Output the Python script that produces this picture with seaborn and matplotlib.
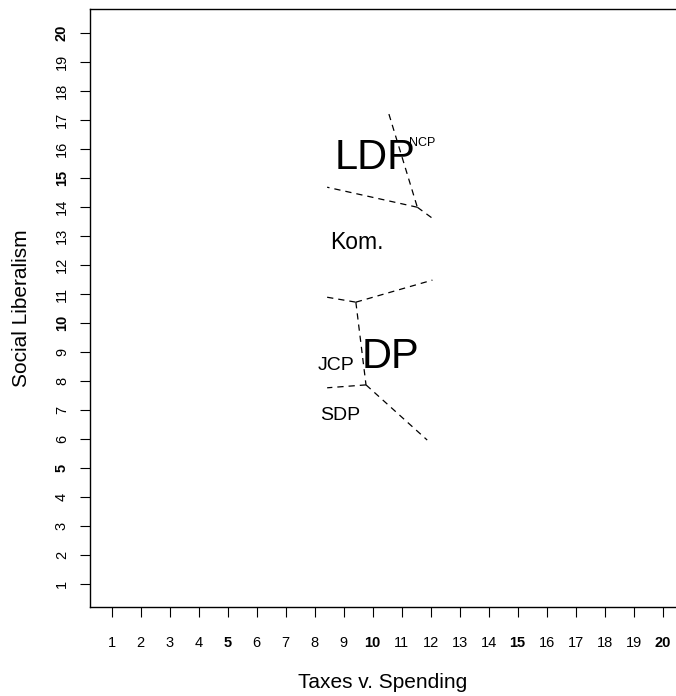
import numpy as np
import pandas as pd
import matplotlib
matplotlib.use("Agg")
import matplotlib.pyplot as plt
import seaborn as sns

# =====================================
# DATA
# =====================================

parties = ["LDP", "NCP", "Kom.", "DP", "JCP", "SDP"]
party_x = [10.08, 11.70, 9.46, 10.60, 8.73, 8.87]
party_y = [15.68, 16.20, 12.79, 8.83, 8.55, 6.80]

# voronoi edges (dashed), one row per segment
edge_x0 = [10.56, 11.54, 11.54, 8.43, 9.42, 9.42, 9.77, 9.77]
edge_y0 = [17.20, 13.99, 13.99, 10.89, 10.72, 10.72, 7.87, 7.87]
edge_x1 = [11.54, 12.06, 8.43, 9.42, 12.06, 9.77, 8.43, 11.88]
edge_y1 = [13.99, 13.61, 14.68, 10.72, 11.48, 7.87, 7.77, 5.97]

ticks = list(range(1, 21))

# =====================================
# STYLE
# =====================================

label_size = {"LDP": 30, "NCP": 9, "Kom.": 16.5, "DP": 30, "JCP": 14, "SDP": 14}

sns.set_style("white")
plt.rcParams["font.family"] = ["Liberation Sans", "DejaVu Sans"]
plt.rcParams["text.color"] = "black"
plt.rcParams["axes.labelcolor"] = "black"

# =====================================
# PLOT
# =====================================

fig = plt.figure(figsize=(6.76, 6.96), dpi=100)
ax = fig.add_axes([90 / 676, 89 / 696, 1 - 90 / 676, 598 / 696])

seg_rows = []
for i in range(len(edge_x0)):
    seg_rows.append({"seg": i, "x": edge_x0[i], "y": edge_y0[i]})
    seg_rows.append({"seg": i, "x": edge_x1[i], "y": edge_y1[i]})
segs = pd.DataFrame(seg_rows)

sns.lineplot(
    data=segs,
    x="x",
    y="y",
    units="seg",
    estimator=None,
    sort=False,
    color="black",
    linewidth=0.9,
    dashes=False,
    ax=ax
)
for line in ax.lines:
    line.set_dashes((5, 4))

for name, px, py in zip(parties, party_x, party_y):
    ax.text(px, py, name, fontsize=label_size[name],
            ha="center", va="center", color="black")

ax.set_xlim(0.252, 20.46)
ax.set_ylim(0.218, 20.82)

ax.set_xticks(ticks)
ax.set_yticks(ticks)
ax.set_xticklabels([str(t) for t in ticks])
ax.set_yticklabels([str(t) for t in ticks], rotation=90, va="center")

for lab in ax.get_xticklabels() + ax.get_yticklabels():
    if int(lab.get_text()) % 5 == 0:
        lab.set_fontweight("bold")

ax.tick_params(axis="x", direction="out", length=7.2, width=0.8,
               pad=14, labelsize=10.5, colors="black", bottom=True)
ax.tick_params(axis="y", direction="out", length=7.2, width=0.8,
               pad=8, labelsize=10.5, colors="black", left=True)

for side in ["left", "bottom", "top"]:
    ax.spines[side].set_visible(True)
    ax.spines[side].set_color("black")
    ax.spines[side].set_linewidth(1.0)
ax.spines["right"].set_visible(False)

ax.set_xlabel("Taxes v. Spending", fontsize=15, labelpad=16, color="black")
ax.set_ylabel("Social Liberalism", fontsize=15, labelpad=17, color="black")

fig.savefig("out.png", dpi=100)
